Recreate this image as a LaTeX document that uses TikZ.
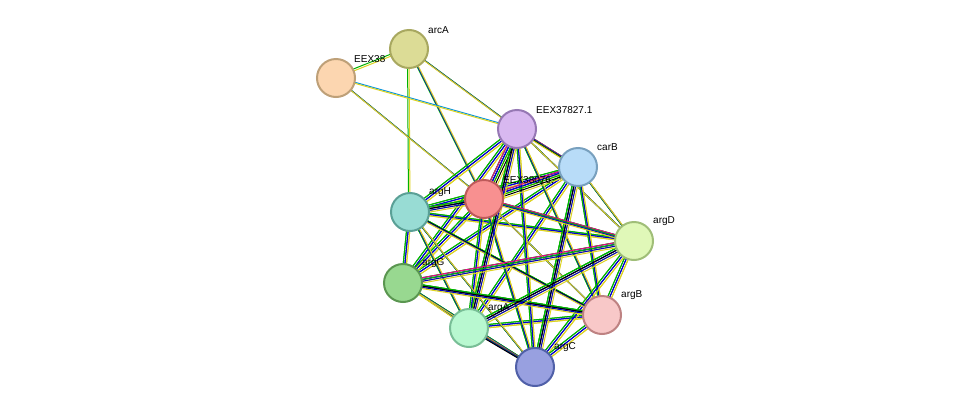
\documentclass[tikz,border=0pt]{standalone}
\usepackage{fontspec}
\setmainfont{Liberation Sans}
\usetikzlibrary{calc}
\begin{document}
\begin{tikzpicture}[x=1pt,y=-1pt,
  prot/.style={circle,draw,line width=2pt,minimum size=38pt,inner sep=0pt},
  lab/.style={font=\fontsize{10pt}{11pt}\selectfont,anchor=south west,inner sep=1pt}]
\useasboundingbox (0,0) rectangle (975,413);
\fill[white] (0,0) rectangle (975,413);
\coordinate (arcA) at (409,49);
\coordinate (E38) at (336,78);
\coordinate (E37) at (517,129);
\coordinate (carB) at (578,167);
\coordinate (E76) at (484,199);
\coordinate (argH) at (410,212);
\coordinate (argD) at (634,241);
\coordinate (argG) at (403,283);
\coordinate (argA) at (469,328);
\coordinate (argB) at (602,315);
\coordinate (argC) at (535,367);
\def\bundle#1#2#3{\foreach \c [count=\i] in {#3}{\pgfmathsetmacro\o{(\i-2)*1.5}\draw[\c,line width=1pt] ($(#1)+(\o,\o)$) -- ($(#2)+(\o,\o)$);}}
\colorlet{sg}{green!70!black}
\colorlet{sy}{yellow!85!black}
\colorlet{sb}{blue!80!black}
\bundle{arcA}{E38}{sg,sy}
\bundle{arcA}{E37}{sg,sb,sy}
\bundle{arcA}{E76}{sg,sb,sy}
\bundle{arcA}{argH}{sg,sy}
\bundle{E38}{E37}{cyan!80!blue,sy}
\bundle{E38}{E76}{sg,sb,sy}
\foreach \a in {E37,carB,E76,argH,argD,argG,argA,argB,argC}{
 \foreach \b in {E37,carB,E76,argH,argD,argG,argA,argB,argC}{
  \ifx\a\b\else \bundle{\a}{\b}{sg,sb,sy}\fi}}
\foreach \a/\b in {E37/carB,E37/E76,carB/E76}{\bundle{\a}{\b}{magenta,sb,sg,black,sy}}
\foreach \a/\b in {argH/E76,argH/argB,E37/argA,carB/argC,argG/argB,argA/argD}{\bundle{\a}{\b}{sg,black,sb,sy}}
\bundle{E76}{argD}{magenta,sg,sb,sy}
\bundle{argG}{argD}{magenta,sg,sb,sy}
\bundle{argA}{argC}{magenta,sg,sb,black}
\node[prot,fill={rgb,255:red,220;green,220;blue,150},draw={rgb,255:red,168;green,168;blue,96}] (n1) at (arcA) {};
\node[prot,fill={rgb,255:red,252;green,214;blue,176},draw={rgb,255:red,190;green,160;blue,120}] (n2) at (E38) {};
\node[prot,fill={rgb,255:red,216;green,184;blue,240},draw={rgb,255:red,150;green,120;blue,180}] (n3) at (E37) {};
\node[prot,fill={rgb,255:red,184;green,220;blue,248},draw={rgb,255:red,120;green,160;blue,190}] (n4) at (carB) {};
\node[prot,fill={rgb,255:red,248;green,144;blue,144},draw={rgb,255:red,190;green,90;blue,90}] (n5) at (E76) {};
\node[prot,fill={rgb,255:red,152;green,220;blue,212},draw={rgb,255:red,90;green,160;blue,150}] (n6) at (argH) {};
\node[prot,fill={rgb,255:red,224;green,248;blue,184},draw={rgb,255:red,160;green,190;blue,120}] (n7) at (argD) {};
\node[prot,fill={rgb,255:red,152;green,216;blue,144},draw={rgb,255:red,90;green,150;blue,80}] (n8) at (argG) {};
\node[prot,fill={rgb,255:red,184;green,248;blue,208},draw={rgb,255:red,120;green,190;blue,150}] (n9) at (argA) {};
\node[prot,fill={rgb,255:red,248;green,200;blue,200},draw={rgb,255:red,190;green,130;blue,130}] (n10) at (argB) {};
\node[prot,fill={rgb,255:red,152;green,160;blue,224},draw={rgb,255:red,80;green,96;blue,168}] (n11) at (argC) {};
\node[lab] at (427,35) {arcA};
\node[lab] at (353,64) {EEX38};
\node[lab] at (535,115) {EEX37827.1};
\node[lab] at (596,152) {carB};
\node[lab] at (502,185) {EEX38076.};
\node[lab] at (428,198) {argH};
\node[lab] at (652,227) {argD};
\node[lab] at (421,269) {argG};
\node[lab] at (487,314) {argA};
\node[lab] at (620,301) {argB};
\node[lab] at (553,353) {argC};
\end{tikzpicture}
\end{document}
